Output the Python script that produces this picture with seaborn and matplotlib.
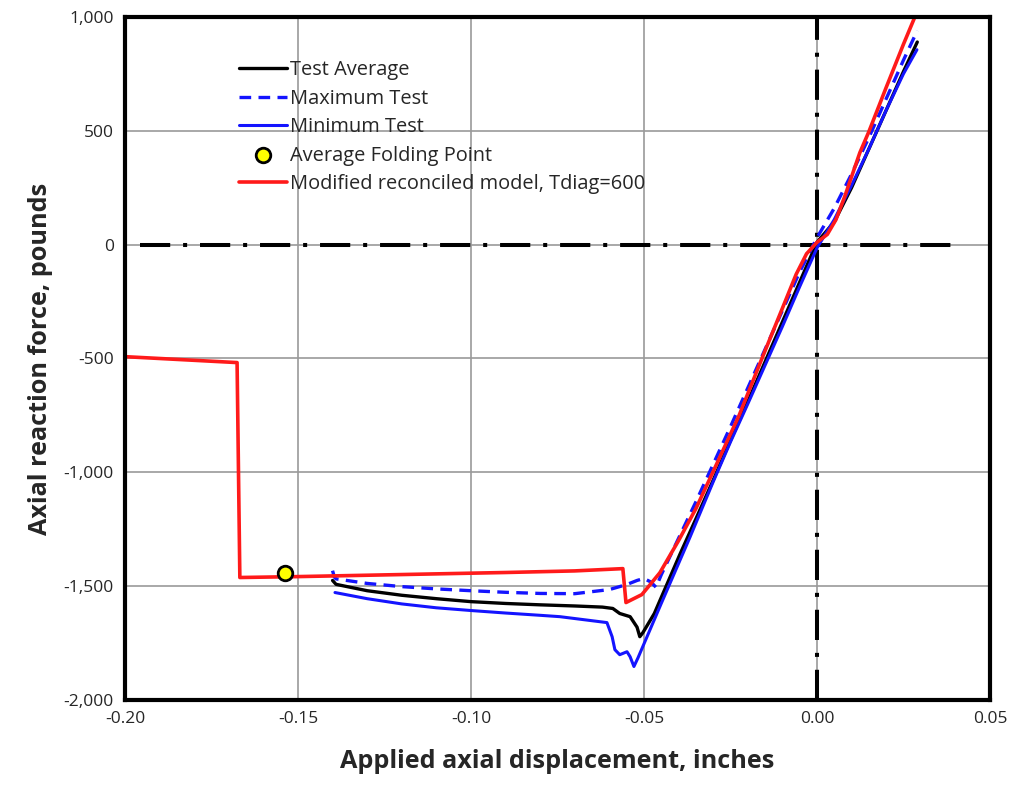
import matplotlib
matplotlib.use("Agg")
import matplotlib.pyplot as plt
import seaborn as sns
from matplotlib.ticker import FuncFormatter

# Test average curve
avg_x = [-0.140, -0.139, -0.130, -0.120, -0.110, -0.100, -0.090, -0.080, -0.070, -0.062,
         -0.059, -0.057, -0.054, -0.052, -0.0512, -0.0503, -0.047, -0.0396, -0.035, -0.030,
         -0.025, -0.020, -0.015, -0.010, -0.005, 0.000, 0.005, 0.010, 0.015, 0.020, 0.025, 0.029]
avg_y = [-1475, -1492, -1520, -1540, -1555, -1568, -1576, -1582, -1587, -1592,
         -1598, -1620, -1634, -1680, -1722, -1704, -1620, -1360, -1205, -1035,
         -860, -690, -515, -340, -165, 10, 100, 250, 420, 590, 760, 890]

# Maximum test curve
max_x = [-0.140, -0.1395, -0.139, -0.130, -0.120, -0.110, -0.100, -0.090, -0.080, -0.070,
         -0.060, -0.055, -0.052, -0.050, -0.048, -0.0465, -0.045, -0.040, -0.035, -0.030,
         -0.025, -0.020, -0.015, -0.010, -0.005, 0.000, 0.005, 0.010, 0.015, 0.020, 0.025, 0.029]
max_y = [-1432, -1460, -1468, -1488, -1502, -1512, -1520, -1527, -1532, -1533,
         -1515, -1493, -1475, -1466, -1482, -1505, -1450, -1290, -1130, -965,
         -800, -630, -460, -290, -120, 30, 160, 310, 470, 640, 810, 940]

# Minimum test curve
min_x = [-0.1393, -0.130, -0.120, -0.110, -0.100, -0.090, -0.080, -0.0743, -0.0607, -0.0592,
         -0.0584, -0.057, -0.0549, -0.054, -0.0529, -0.0517, -0.045, -0.0367, -0.030, -0.025,
         -0.020, -0.015, -0.010, -0.005, 0.000, 0.005, 0.010, 0.015, 0.020, 0.025, 0.0289]
min_y = [-1528, -1555, -1578, -1595, -1607, -1618, -1628, -1634, -1660, -1722,
         -1779, -1801, -1788, -1810, -1853, -1814, -1576, -1285, -1042, -867,
         -700, -530, -360, -185, -15, 110, 260, 420, 590, 750, 856]

# Modified reconciled model, Tdiag=600
model_x = [-0.200, -0.1676, -0.1668, -0.150, -0.130, -0.110, -0.090, -0.070, -0.0561, -0.0552,
           -0.0506, -0.0454, -0.040, -0.035, -0.0301, -0.0225, -0.0159, -0.010, -0.006, -0.003,
           0.000, 0.003, 0.0055, 0.008, 0.0124, 0.0150, 0.020, 0.025, 0.0283]
model_y = [-492, -518, -1462, -1458, -1452, -1446, -1440, -1433, -1423, -1572,
           -1537, -1441, -1300, -1160, -1000, -750, -500, -280, -130, -40,
           10, 45, 110, 210, 404, 496, 690, 880, 1000]

# Average folding point
fold_x = [-0.1538]
fold_y = [-1440]

x_ticks = [-0.20, -0.15, -0.10, -0.05, 0.00, 0.05]
y_ticks = [-2000, -1500, -1000, -500, 0, 500, 1000]

sns.set_style("white")
plt.rcParams["font.family"] = ["Open Sans", "DejaVu Sans"]

fig = plt.figure(figsize=(10.12, 7.89), dpi=100)
ax = fig.add_axes([0.1235, 0.1128, 0.8547, 0.8657])

# reference axes drawn as heavy dash-dot lines
dash_dot = (7.5, 3.2, 1.0, 3.2)
ax.plot([-0.1957, 0.0413], [0, 0], color="black", lw=2.9, dashes=dash_dot,
        solid_capstyle="butt", zorder=2)
ax.axvline(0.0, color="black", lw=2.9, dashes=dash_dot, zorder=2)

sns.lineplot(x=avg_x, y=avg_y, ax=ax, color="black", lw=2.4, sort=False,
             estimator=None, label="Test Average", zorder=4)
sns.lineplot(x=max_x, y=max_y, ax=ax, color="#1414ff", lw=2.4, sort=False,
             estimator=None, label="Maximum Test", zorder=4)
ax.lines[-1].set_dashes((3.5, 2.2))
sns.lineplot(x=min_x, y=min_y, ax=ax, color="#1414ff", lw=2.2, sort=False,
             estimator=None, label="Minimum Test", zorder=4)
sns.scatterplot(x=fold_x, y=fold_y, ax=ax, color="#ffff00", edgecolor="black",
                linewidth=2.0, s=110, label="Average Folding Point", zorder=6)
sns.lineplot(x=model_x, y=model_y, ax=ax, color="#ff1a1a", lw=2.6, sort=False,
             estimator=None, label="Modified reconciled model, Tdiag=600", zorder=5)

ax.set_xlim(-0.20, 0.05)
ax.set_ylim(-2000, 1000)
ax.set_xticks(x_ticks)
ax.set_yticks(y_ticks)
ax.xaxis.set_major_formatter(FuncFormatter(lambda v, p: f"{v:.2f}"))
ax.yaxis.set_major_formatter(FuncFormatter(lambda v, p: f"{int(round(v)):,}"))
ax.grid(True, color="#9a9a9a", lw=1.2)
ax.set_axisbelow(True)
ax.tick_params(axis="both", labelsize=12.5, length=0, pad=8)

for s in ax.spines.values():
    s.set_color("black")
    s.set_linewidth(3)
    s.set_zorder(7)

ax.set_xlabel("Applied axial displacement, inches", fontsize=18.2,
              fontweight="bold", labelpad=16)
ax.set_ylabel("Axial reaction force, pounds", fontsize=18.2,
              fontweight="bold", labelpad=8)

leg = ax.legend(loc="upper left", bbox_to_anchor=(0.122, 0.948), frameon=False,
                fontsize=14.4, handlelength=2.4, handletextpad=0.15,
                labelspacing=0.42, borderaxespad=0)

fig.savefig("out.png", dpi=100)
